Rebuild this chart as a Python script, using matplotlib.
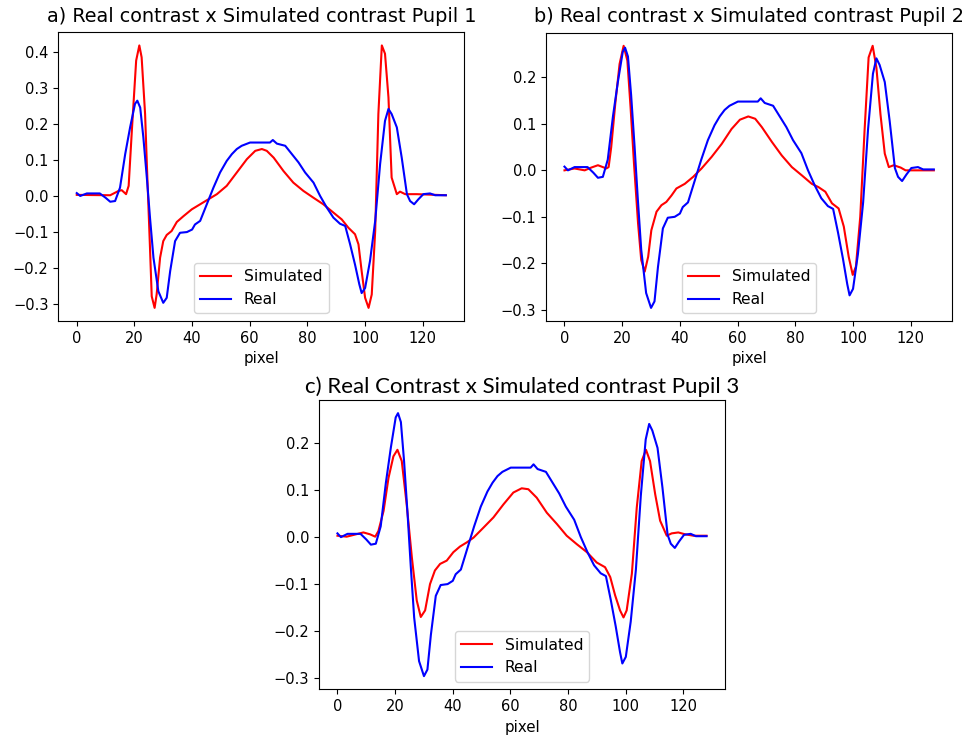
import matplotlib
matplotlib.use("Agg")
import matplotlib.pyplot as plt

real_x = [0, 1.2, 3.5, 8, 10, 11.6, 13.3, 15, 16.8, 18.5, 20.2, 21, 22, 23.1, 24.3, 25.4, 26.6, 28.3, 30, 31.2,
          32.4, 34.1, 35.8, 38.2, 40, 41, 42.8, 45.1, 47.4, 49.7, 52, 53.8, 55.5, 57.2, 60.1, 63.6, 67, 68, 69.4, 72.3,
          74.6, 76.9, 79.2, 82.1, 84.4, 86.7, 89, 91.3, 93.1, 94.8, 96.5, 98, 98.8, 100, 101.7, 103.5, 105.2, 106.9,
          108.1, 109.2, 111, 112.7, 114.5, 115.6, 117, 118.5, 120.2, 122.5, 124.3, 128]
real_y = [0.008, 0.0, 0.007, 0.007, -0.005, -0.016, -0.014, 0.023, 0.116, 0.19, 0.255, 0.264, 0.245, 0.162, 0.051,
          -0.06, -0.171, -0.264, -0.296, -0.282, -0.208, -0.125, -0.102, -0.1, -0.093, -0.079, -0.069, -0.023, 0.023,
          0.065, 0.097, 0.116, 0.13, 0.139, 0.148, 0.148, 0.148, 0.155, 0.145, 0.139, 0.116, 0.093, 0.065, 0.037, 0.0,
          -0.032, -0.06, -0.077, -0.083, -0.134, -0.19, -0.245, -0.269, -0.255, -0.18, -0.069, 0.088, 0.208, 0.241,
          0.227, 0.19, 0.106, 0.005, -0.014, -0.023, -0.009, 0.005, 0.007, 0.002, 0.002]

sim1_x = [0, 11.6, 14.5, 15.6, 17.1, 18, 19.1, 20.6, 21.7, 22.5, 23.7, 24.3, 25.4, 26, 27, 27.7, 28.9, 30, 31.2, 32.9,
          34.7, 37, 39.9, 42.8, 45.7, 48.6, 52, 55.5, 59, 61.9, 64.2, 65.9, 68.3, 71.7, 75.1, 78.6, 82.1, 85.5, 89,
          91.9, 94.2, 96.5, 97.7, 98.8, 100, 101.2, 102.3, 103.5, 104.6, 105.8, 106.9, 108.1, 109.2, 111, 112.1,
          113.9, 117.9, 128]
sim1_y = [0.003, 0.002, 0.014, 0.016, 0.005, 0.028, 0.18, 0.375, 0.417, 0.384, 0.227, 0.09, -0.144, -0.278, -0.31,
          -0.273, -0.171, -0.125, -0.108, -0.097, -0.072, -0.056, -0.037, -0.023, -0.009, 0.005, 0.028, 0.065, 0.102,
          0.125, 0.13, 0.125, 0.106, 0.069, 0.037, 0.014, -0.005, -0.023, -0.046, -0.065, -0.088, -0.106, -0.134,
          -0.208, -0.282, -0.31, -0.273, -0.097, 0.227, 0.417, 0.394, 0.273, 0.051, 0.005, 0.012, 0.005, 0.005, 0.002]

sim2_x = [0, 3.5, 7, 9.3, 11.6, 13.3, 14.5, 15.3, 16.2, 17.6, 19.1, 20.5, 21.8, 22.9, 24.1, 25.5, 26.6, 27.8, 29,
          30.1, 31.9, 33.6, 35.3, 37.1, 38.8, 41.7, 44.6, 47.5, 51, 54.5, 57.9, 60.8, 63.7, 66.1, 68.4, 71.9, 75.3,
          78.8, 82.3, 85.7, 88, 90.4, 92.7, 95, 96.8, 98.5, 99.9, 101, 102.5, 104, 105.4, 106.8, 108.1, 109.5, 111,
          112.4, 114.1, 116.5, 118.2, 128]
sim2_y = [0, 0.004, 0.0, 0.006, 0.011, 0.007, 0.004, 0.007, 0.05, 0.143, 0.229, 0.268, 0.236, 0.136, 0.014, -0.114,
          -0.193, -0.218, -0.186, -0.129, -0.089, -0.075, -0.068, -0.054, -0.039, -0.029, -0.014, 0.004, 0.029,
          0.057, 0.089, 0.109, 0.116, 0.111, 0.093, 0.061, 0.032, 0.007, -0.011, -0.029, -0.036, -0.046, -0.071,
          -0.082, -0.121, -0.186, -0.225, -0.207, -0.1, 0.086, 0.243, 0.268, 0.221, 0.121, 0.036, 0.007, 0.011,
          0.006, 0.0, 0.0]

sim3_x = [0, 3.2, 9, 11.3, 13.1, 14.2, 16, 17.7, 19.4, 20.8, 22.3, 24, 25.8, 27.5, 28.9, 30.4, 32.1, 33.8, 35.6,
          37.9, 40.2, 42.5, 44.9, 47.2, 50.6, 54.1, 57.6, 61, 63.9, 66.2, 69.1, 72.6, 76.1, 79.5, 83, 86.5, 89.9,
          92.8, 94.6, 96.3, 98, 99.2, 100.3, 102.1, 103.8, 105.5, 107, 108.4, 110.2, 111.9, 114.2, 115.9, 118.2,
          120.6, 123.5, 128]
sim3_y = [0.003, 0.001, 0.01, 0.006, 0.001, 0.013, 0.056, 0.126, 0.172, 0.186, 0.162, 0.07, -0.043, -0.135, -0.17,
          -0.156, -0.1, -0.071, -0.057, -0.05, -0.032, -0.02, -0.011, -0.001, 0.02, 0.042, 0.07, 0.095, 0.104,
          0.102, 0.084, 0.052, 0.028, 0.003, -0.015, -0.032, -0.054, -0.064, -0.085, -0.124, -0.156, -0.171,
          -0.156, -0.078, 0.063, 0.162, 0.186, 0.162, 0.091, 0.035, 0.003, 0.008, 0.01, 0.006, 0.003, 0.003]

titles = ["a) Real contrast x Simulated contrast Pupil 1",
          "b) Real contrast x Simulated contrast Pupil 2",
          "c) Real Contrast x Simulated contrast Pupil 3"]
sims = [(sim1_x, sim1_y), (sim2_x, sim2_y), (sim3_x, sim3_y)]

W, H = 966, 742
fig = plt.figure(figsize=(W / 100, H / 100), dpi=100)


def px_axes(l, t, r, b):
    return fig.add_axes([l / W, 1 - b / H, (r - l) / W, (b - t) / H])


boxes = [(58.3, 32.3, 464.3, 321), (546, 32.7, 952.3, 321), (319, 400, 725, 689.3)]
for i, (box, (sx, sy)) in enumerate(zip(boxes, sims)):
    ax = px_axes(*box)
    ax.plot(sx, sy, color="red", lw=1.5, label="Simulated")
    ax.plot(real_x, real_y, color="blue", lw=1.5, label="Real")
    ax.set_xticks([0, 20, 40, 60, 80, 100, 120])
    ax.set_xlabel("pixel", fontsize=10.8)
    ax.tick_params(labelsize=10.5)
    ax.legend(loc="lower center", fontsize=11.2)
    if i < 2:
        ax.set_title(titles[i], fontsize=13.9, pad=7.5)
    else:
        ax.set_title(titles[i], fontsize=16, pad=5, family=["Lato", "DejaVu Sans"])

fig.savefig("out.png", dpi=100)
